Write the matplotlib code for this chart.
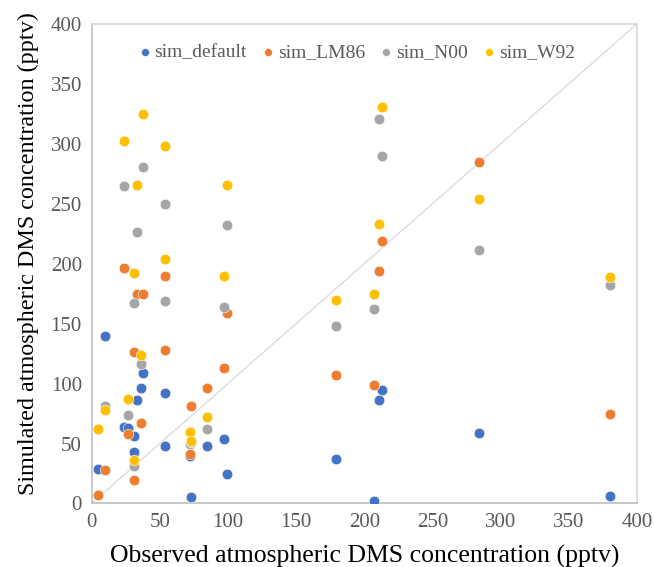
import matplotlib
matplotlib.use("Agg")
import matplotlib.pyplot as plt

# observed DMS (pptv), shared by every simulation
observed = [5, 10, 24, 27, 31, 31, 33, 36, 38, 54, 54, 72, 73, 85, 97, 99,
            179, 207, 211, 213, 284, 380]

sim_default = [29, 140, 64, 63, 43, 56, 86, 96, 109, 48, 92, 40, 5, 48, 54, 25,
               37, 2, 86, 95, 59, 6]
sim_LM86 = [7, 28, 196, 58, 20, 126, 175, 67, 175, 128, 190, 41, 81, 96, 113, 159,
            107, 99, 194, 219, 285, 75]
sim_N00 = [62, 81, 265, 74, 31, 167, 226, 116, 281, 169, 250, 50, 51, 62, 164, 232,
           148, 162, 321, 290, 211, 182]
sim_W92 = [62, 78, 302, 87, 36, 192, 266, 124, 325, 204, 298, 60, 52, 72, 190, 266,
           170, 175, 233, 331, 254, 189]

series = ["sim_default", "sim_LM86", "sim_N00", "sim_W92"]
values = [sim_default, sim_LM86, sim_N00, sim_W92]
colors = ["#4472C4", "#ED7D31", "#A5A5A5", "#FFC000"]

plt.rcParams["font.family"] = ["Liberation Serif", "DejaVu Serif"]

fig = plt.figure(figsize=(6.54, 5.67), dpi=100)
ax = fig.add_axes([0.140, 0.112, 0.834, 0.846])

ax.plot([0, 400], [0, 400], color="#D9D9D9", lw=0.9, zorder=1)
for name, vals, c in zip(series, values, colors):
    ax.scatter(observed, vals, s=58, color=c, edgecolors="white", linewidths=0.4,
               label=name, zorder=3)

ax.set_xlim(0, 400)
ax.set_ylim(0, 400)
ax.set_xticks(range(0, 401, 50))
ax.set_yticks(range(0, 401, 50))
ax.tick_params(length=0, labelsize=15, colors="#595959", pad=7)
for s in ["left", "bottom"]:
    ax.spines[s].set_color("#BFBFBF")
for s in ["top", "right"]:
    ax.spines[s].set_color("#D9D9D9")
for s in ax.spines.values():
    s.set_linewidth(1.2)

ax.set_xlabel("Observed atmospheric DMS concentration (pptv)", fontsize=18.5, labelpad=9)
ax.set_ylabel("Simulated atmospheric DMS concentration (pptv)", fontsize=17.4)
ax.yaxis.set_label_coords(-0.097, 0.52)

leg = ax.legend(loc="upper center", bbox_to_anchor=(0.483, 0.995), ncol=4, frameon=False,
                fontsize=14, handletextpad=0.0, columnspacing=0.6, markerscale=0.75,
                handlelength=1.0, labelcolor="#595959")

fig.savefig("out.png", dpi=100)
